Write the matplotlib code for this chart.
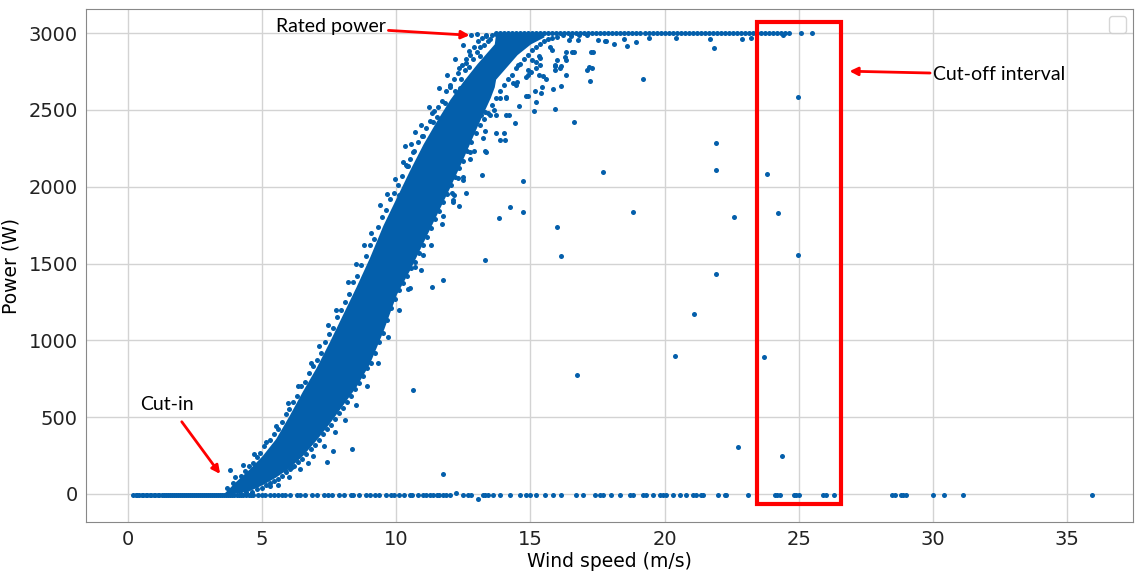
import matplotlib
matplotlib.use("Agg")
import matplotlib.pyplot as plt
from matplotlib.patches import Rectangle
import numpy as np

# dense core of the power curve: wind speed, lower / upper power
core_ws = [3.6, 4.0, 4.5, 5.0, 5.5, 6.0, 6.5, 7.0, 7.5, 8.0, 8.5, 9.0, 9.5, 10.0,
           10.5, 11.0, 11.5, 12.0, 12.5, 13.0, 13.5, 13.65, 13.7, 14.0, 14.5, 15.0, 15.5]
core_hi = [10, 80, 160, 250, 360, 510, 670, 820, 990, 1170, 1350, 1540, 1750, 1930,
           2110, 2280, 2430, 2570, 2690, 2800, 2900, 2930, 3000, 3000, 3000, 3000, 3000]
core_lo = [0, 5, 20, 60, 110, 170, 250, 350, 460, 580, 700, 850, 1060, 1300,
           1460, 1640, 1820, 2000, 2190, 2390, 2580, 2650, 2700, 2760, 2860, 2930, 2975]

# scattered points along the upper (left) edge of the curve
upper_edge = [(3.7, 40), (3.9, 70), (4.0, 110), (4.2, 120), (4.35, 150), (4.5, 185), (4.65, 200),
              (4.8, 240), (4.9, 265), (5.05, 310), (5.15, 340), (5.3, 350), (5.45, 390), (5.6, 420),
              (5.75, 470), (5.9, 520), (6.0, 550), (6.15, 600), (6.3, 640), (6.45, 700), (6.6, 730),
              (6.75, 790), (6.9, 830), (7.05, 870), (7.2, 920), (7.35, 990), (7.5, 1040), (7.65, 1080),
              (7.8, 1150), (7.95, 1200), (8.1, 1250), (8.25, 1300), (8.4, 1380), (8.55, 1420),
              (8.7, 1490), (8.85, 1550), (9.0, 1620), (9.15, 1660), (9.3, 1740), (9.45, 1800),
              (9.6, 1850), (9.75, 1920), (9.9, 1960), (10.05, 2010), (10.2, 2070), (10.35, 2140),
              (10.5, 2180), (10.65, 2230), (10.8, 2290), (10.95, 2330), (11.1, 2380), (11.25, 2430),
              (11.4, 2490), (11.55, 2520), (11.7, 2560), (11.85, 2620), (12.0, 2660), (12.15, 2700),
              (12.3, 2740), (12.45, 2790), (12.6, 2830), (12.75, 2860), (12.9, 2910), (13.05, 2950),
              (13.2, 2970), (13.35, 2990), (12.2, 2620), (12.4, 2700), (12.55, 2760), (12.7, 2780),
              (12.85, 2830), (13.0, 2880), (13.1, 2850), (13.25, 2920), (13.4, 2950), (13.5, 2960),
              (13.55, 2990), (13.11, 2910), (12.99, 2997), (13.33, 2982), (13.7, 2997),
              (12.59, 2806), (12.71, 2882), (12.33, 2770), (11.31, 2477), (11.5, 2455),
              (11.0, 2331), (10.69, 2357), (10.32, 2266), (10.44, 2134), (10.1, 1945),
              (10.63, 2227), (10.38, 2136), (11.81, 2543), (11.37, 2423), (12.0, 2651), (12.37, 2640)]

# looser points further out on the upper edge
upper_outer = [(4.3, 190), (4.7, 260), (5.5, 440), (5.95, 590), (6.35, 700), (6.8, 850), (7.1, 960),
               (7.45, 1100), (7.75, 1200), (8.2, 1380), (8.5, 1500), (8.8, 1620), (9.05, 1700),
               (9.4, 1880), (9.65, 1950), (9.95, 2050), (10.25, 2160), (10.55, 2280), (10.9, 2400),
               (11.2, 2520), (11.6, 2640), (11.9, 2730), (12.2, 2830), (12.5, 2920), (12.8, 2990)]

# scattered points along the lower (right) edge of the curve
lower_edge = [(4.2, 0), (4.4, 10), (4.6, 15), (4.8, 30), (5.0, 40), (5.15, 55), (5.3, 70), (5.45, 85),
              (5.6, 100), (5.75, 120), (5.9, 140), (6.05, 160), (6.2, 180), (6.35, 210), (6.5, 230),
              (6.65, 260), (6.8, 290), (6.95, 320), (7.1, 350), (7.25, 390), (7.4, 420), (7.55, 450),
              (7.7, 490), (7.85, 530), (8.0, 560), (8.15, 600), (8.3, 640), (8.45, 680), (8.6, 720),
              (8.75, 770), (8.9, 820), (9.05, 850), (9.2, 920), (9.35, 990), (9.5, 1050), (9.65, 1130),
              (9.8, 1210), (9.95, 1270), (10.1, 1330), (10.25, 1370), (10.4, 1420), (10.55, 1470),
              (10.7, 1510), (10.85, 1570), (11.0, 1620), (11.15, 1670), (11.3, 1730), (11.45, 1790),
              (11.6, 1840), (11.75, 1900), (11.9, 1950), (12.05, 2010), (12.2, 2060), (12.35, 2120),
              (12.5, 2170), (12.65, 2230), (12.8, 2290), (12.95, 2350), (13.1, 2400), (13.25, 2440),
              (13.4, 2480), (13.55, 2530), (13.7, 2580), (13.85, 2620), (14.0, 2660), (14.15, 2700),
              (14.3, 2730), (14.45, 2770), (14.6, 2800), (14.75, 2830), (14.9, 2860), (15.05, 2890),
              (15.2, 2910), (15.35, 2930), (15.5, 2950), (15.65, 2960), (15.8, 2970), (16.0, 2975),
              (16.2, 2985), (16.5, 2980), (16.8, 2990), (17.1, 2985)]

# looser points further out on the lower edge
lower_outer = [(5.6, 60), (6.0, 110), (6.4, 160), (6.9, 250), (7.3, 310), (7.7, 400), (8.1, 480),
               (8.5, 580), (8.9, 700), (9.3, 850), (9.7, 1020), (10.1, 1200), (10.5, 1340),
               (10.9, 1460), (11.3, 1620), (11.7, 1760), (12.1, 1900), (12.5, 2060), (12.9, 2230),
               (13.3, 2360), (13.7, 2470), (14.1, 2580), (14.5, 2680), (14.9, 2760), (15.3, 2850)]

# points that drop below rated power at high wind speed
near_rated = [(15.22, 2552), (15.12, 2490), (15.42, 2650), (15.47, 2720), (15.56, 2702), (15.32, 2726),
              (15.83, 2633), (15.91, 2505), (16.13, 2654), (15.93, 2759), (15.93, 2787), (16.15, 2785),
              (16.31, 2877), (16.62, 2877), (15.99, 2828), (16.34, 2828), (17.2, 2687), (17.11, 2759),
              (17.17, 2780), (17.31, 2770), (17.24, 2877), (17.33, 2877), (15.72, 2910), (15.8, 2889),
              (16.44, 2954), (16.77, 2954), (17.52, 2958), (17.77, 2949), (18.11, 2932), (18.6, 2919),
              (18.92, 2939), (18.5, 2960), (17.83, 2947), (19.42, 2969), (20.41, 2969), (21.7, 2960),
              (22.89, 2960), (23.22, 2971), (24.4, 2986), (15.37, 2791), (15.2, 2770), (15.07, 2824),
              (14.89, 2589), (15.16, 2624), (15.4, 2613), (14.9, 2726), (15.03, 2748), (14.47, 2661),
              (14.35, 2672), (13.85, 2578), (14.08, 2585), (14.54, 2791), (14.82, 2715), (15.22, 2813),
              (15.34, 2839), (15.9, 2791), (16.09, 2770), (16.34, 2726), (16.28, 2843), (16.56, 2877),
              (14.41, 2418), (13.85, 2303), (14.04, 2303), (13.7, 2347), (14.0, 2347), (13.3, 2232),
              (14.2, 2466), (14.1, 2470), (13.48, 2470), (13.63, 2498), (14.85, 2590), (14.57, 2526),
              (13.23, 2314), (13.36, 2227), (13.17, 2466), (13.3, 2487), (12.8, 2358), (12.74, 2227),
              (12.76, 2180)]

# isolated outliers
outliers = [(3.8, 153), (5.29, 52), (5.85, 156), (6.1, 176), (6.7, 202), (7.41, 208), (7.63, 280),
            (8.34, 293), (10.61, 676), (11.73, 130), (12.24, 5), (13.05, -35), (10.43, 1334),
            (11.31, 1345), (11.72, 1392), (10.98, 1555), (10.69, 1479), (11.74, 1809), (12.34, 1872),
            (12.12, 1911), (12.14, 1948), (12.61, 1960), (12.06, 1957), (12.3, 2054), (12.49, 2043),
            (13.21, 2075), (13.31, 1522), (13.83, 1794), (14.23, 1869), (14.72, 2039), (14.72, 1833),
            (16.0, 1735), (16.13, 1550), (16.72, 775), (17.7, 2093), (18.82, 1833), (19.2, 2704),
            (20.4, 900), (21.1, 1171), (21.9, 2286), (21.9, 2112), (21.9, 1429), (22.6, 1800),
            (22.72, 306), (23.72, 893), (23.81, 2080), (24.22, 1826), (24.39, 248), (24.96, 2585),
            (24.96, 1555), (21.83, 2902), (16.62, 2420)]

# turbine idle (power about zero)
idle_power = -10
idle_ws = [0.2, 0.28, 0.35, 0.42, 0.5, 0.57, 0.65, 0.72, 0.8, 0.87, 0.95, 1.02, 1.1, 1.17, 1.25,
           1.32, 1.4, 1.47, 1.55, 1.62, 1.7, 1.77, 1.85, 1.92, 2.0, 2.07, 2.15, 2.22, 2.3, 2.37,
           2.45, 2.52, 2.6, 2.67, 2.75, 2.82, 2.9, 2.97, 3.05, 3.12, 3.2, 3.27, 3.35, 3.42, 3.5,
           3.57, 3.65, 3.72, 3.8, 3.88, 3.95, 4.05, 4.12, 4.2, 4.3, 4.4, 4.5, 4.58, 4.65,
           4.83, 5.0, 5.1, 5.3, 5.45, 5.6, 5.75, 5.85, 6.05, 6.3, 6.4, 6.6, 6.85, 7.05, 7.3, 7.45,
           7.6, 7.85, 8.05, 8.3, 8.4, 8.6, 8.85, 9.0, 9.2, 9.35, 9.6, 9.8, 9.9, 10.1, 10.3, 10.5,
           10.6, 10.8, 11.0, 11.1, 11.25, 11.35, 11.5, 11.6, 11.74, 11.85, 11.99, 12.49, 12.67,
           12.8, 13.23, 13.32, 13.42, 13.6, 13.85, 14.23, 14.6, 14.85, 14.97, 15.22, 15.53, 15.84,
           16.15, 16.71, 16.96, 17.39, 17.58, 17.7, 18.01, 18.32, 18.7, 18.82, 19.19, 19.32, 19.56,
           19.81, 19.94, 20.06, 20.31, 20.56, 20.81, 21.05, 21.18, 21.35, 21.43, 21.99, 22.24,
           22.3, 23.12, 24.13, 24.2, 24.3, 24.82, 24.9, 25.0, 25.9, 26.0, 26.3, 28.48, 28.59,
           28.81, 28.9, 29.0, 30.02, 30.4, 31.11, 35.92]

# rated power plateau
rated_power = 3000
rated_ws = [13.7, 13.85, 14.0, 14.15, 14.3, 14.45, 14.6, 14.75, 14.9, 15.05, 15.2, 15.35, 15.5,
            15.65, 15.8, 15.95, 16.1, 16.25, 16.4, 16.55, 16.7, 16.85, 17.0, 17.15, 17.3, 17.45,
            17.6, 17.75, 17.9, 18.05, 18.2, 18.35, 18.5, 18.65, 18.8, 18.95, 19.1, 19.25, 19.4,
            19.55, 19.7, 19.85, 20.0, 20.15, 20.3, 20.45, 20.6, 20.75, 20.9, 21.05, 21.2, 21.35,
            21.5, 21.65, 21.8, 21.95, 22.1, 22.25, 22.4, 22.55, 22.7, 22.85, 23.0, 23.15, 23.3,
            23.45, 23.6, 23.75, 23.9, 24.05, 24.2, 24.35, 24.5, 24.65, 25.1, 25.5]

BLUE = "#045fab"

fig = plt.figure(figsize=(11.35, 5.71), dpi=100)
ax = fig.add_axes([0.076, 0.086, 0.922, 0.898])

ax.fill_between(core_ws, core_lo, core_hi, color=BLUE, lw=0, zorder=2)

scatter_sets = [upper_edge, upper_outer, lower_edge, lower_outer, near_rated, outliers]
for pts in scatter_sets:
    xs, ys = zip(*pts)
    ax.scatter(xs, ys, s=13, color=BLUE, linewidths=0, zorder=3)
ax.scatter(idle_ws, [idle_power] * len(idle_ws), s=13, color=BLUE, linewidths=0, zorder=3)
ax.scatter(rated_ws, [rated_power] * len(rated_ws), s=13, color=BLUE, linewidths=0, zorder=3)

ax.set_xlim(-1.56, 37.45)
ax.set_ylim(-182, 3156)
ax.set_xticks([0, 5, 10, 15, 20, 25, 30, 35])
ax.set_yticks([0, 500, 1000, 1500, 2000, 2500, 3000])
ax.grid(True, color="#d3d3d3", lw=1)
ax.set_axisbelow(True)
ax.tick_params(length=0, pad=6, labelsize=14, colors="#222222")
for sp in ax.spines.values():
    sp.set_color("#888888")
ax.set_xlabel("Wind speed (m/s)", fontsize=13.5, labelpad=2)
ax.set_ylabel("Power (W)", fontsize=13.5, labelpad=6)

ax.legend(handles=[], loc="upper right", borderpad=0.6)

# annotations
ann_font = dict(family="Lato", fontsize=14, color="black")
arrow = dict(arrowstyle="-|>", color="red", lw=2, mutation_scale=12, shrinkA=0, shrinkB=0)
ax.annotate("Rated power", xy=(12.73, 2986), xytext=(9.6, 3040), ha="right", va="center",
            arrowprops=arrow, **ann_font)
ax.annotate("Cut-off interval", xy=(26.89, 2752), xytext=(30.0, 2730), ha="left", va="center",
            arrowprops=arrow, **ann_font)
ax.annotate("Cut-in", xy=(3.43, 130), xytext=(0.45, 580), ha="left", va="center", **ann_font)
ax.annotate("", xy=(3.43, 130), xytext=(2.0, 470), arrowprops=arrow)
ax.add_patch(Rectangle((23.43, -65), 3.16, 3136, fill=False, ec="red", lw=3, zorder=5))

fig.savefig("out.png", dpi=100)
